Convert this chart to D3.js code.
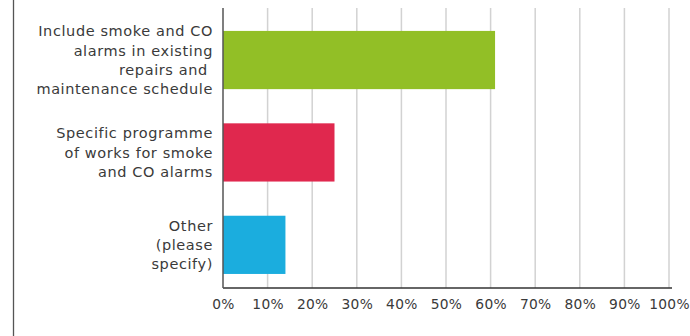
<!DOCTYPE html>
<html lang="en">
<head>
    <meta charset="UTF-8">
    <title>Smoke and CO alarms</title>
    <script src="https://cdn.jsdelivr.net/npm/d3@7/dist/d3.min.js"></script>
    <style>
        body { margin: 0; background: #fff; }
        text { font-family: "DejaVu Sans", sans-serif; fill: #3a3a3a; }
    </style>
</head>
<body>
    <div class="chart"></div>
</body>
<script>
    // data
    const categories = [
        ['Include smoke and CO', 'alarms in existing', 'repairs and\u00a0', 'maintenance schedule'],
        ['Specific programme', 'of works for smoke', 'and CO alarms'],
        ['Other', '(please', 'specify)']
    ]
    const values = [61, 25, 14]
    const colors = ['#92bf26', '#e0284e', '#1badde']
    const ticks = [0, 10, 20, 30, 40, 50, 60, 70, 80, 90, 100]

    const width = 690
    const height = 336
    const margin = { top: 8, right: 21, bottom: 48, left: 223 }

    const svg = d3.select('.chart')
        .append('svg')
        .attr('width', width)
        .attr('height', height)

    // frame line on the left
    svg.append('line')
        .attr('x1', 13.5).attr('x2', 13.5)
        .attr('y1', 0).attr('y2', height)
        .attr('stroke', '#555')
        .attr('stroke-width', 1.3)

    const xScale = d3.scaleLinear().domain([0, 100]).range([margin.left, width - margin.right])
    const yScale = d3.scaleBand()
        .domain(d3.range(values.length))
        .range([margin.top, height - margin.bottom])
        .paddingInner(0.37)
        .paddingOuter(0.2)
        .align(0.62)

    // gridlines
    svg.append('g')
        .selectAll('line')
        .data(ticks.slice(1))
        .enter()
        .append('line')
        .attr('x1', d => xScale(d)).attr('x2', d => xScale(d))
        .attr('y1', margin.top).attr('y2', height - margin.bottom)
        .attr('stroke', '#d2d2d2')
        .attr('stroke-width', 1.5)

    // bars
    svg.append('g')
        .selectAll('rect')
        .data(values)
        .enter()
        .append('rect')
        .attr('x', xScale(0))
        .attr('y', (d, i) => yScale(i))
        .attr('width', d => xScale(d) - xScale(0))
        .attr('height', yScale.bandwidth())
        .attr('fill', (d, i) => colors[i])

    // x axis
    const xAxis = d3.axisBottom(xScale)
        .tickValues(ticks)
        .tickSize(0)
        .tickPadding(11)
        .tickFormat(d => d + '%')
    const gX = svg.append('g')
        .attr('transform', `translate(0, ${height - margin.bottom})`)
        .call(xAxis)
    gX.select('.domain').attr('stroke', '#333').attr('stroke-width', 1.5)
        .attr('d', `M${xScale(0)},0H${xScale(100) + 3}`)
    gX.selectAll('text').style('font-size', '13.8px').style('letter-spacing', '0.3px').attr('fill', '#3a3a3a')

    // y axis line
    svg.append('line')
        .attr('x1', xScale(0)).attr('x2', xScale(0))
        .attr('y1', margin.top).attr('y2', height - margin.bottom)
        .attr('stroke', '#555')
        .attr('stroke-width', 1.5)

    // category labels
    const lineH = 19.2
    const labels = svg.append('g')
        .selectAll('text')
        .data(categories)
        .enter()
        .append('text')
        .attr('text-anchor', 'end')
        .style('font-size', '14.5px')
        .style('letter-spacing', '0.6px')
        .attr('y', (d, i) => yScale(i) + yScale.bandwidth() / 2 - (d.length - 1) * lineH / 2)
    labels.selectAll('tspan')
        .data(d => d)
        .enter()
        .append('tspan')
        .attr('x', margin.left - 10)
        .attr('dy', (d, i) => i === 0 ? '0.35em' : lineH)
        .text(d => d)
</script>
</html>
